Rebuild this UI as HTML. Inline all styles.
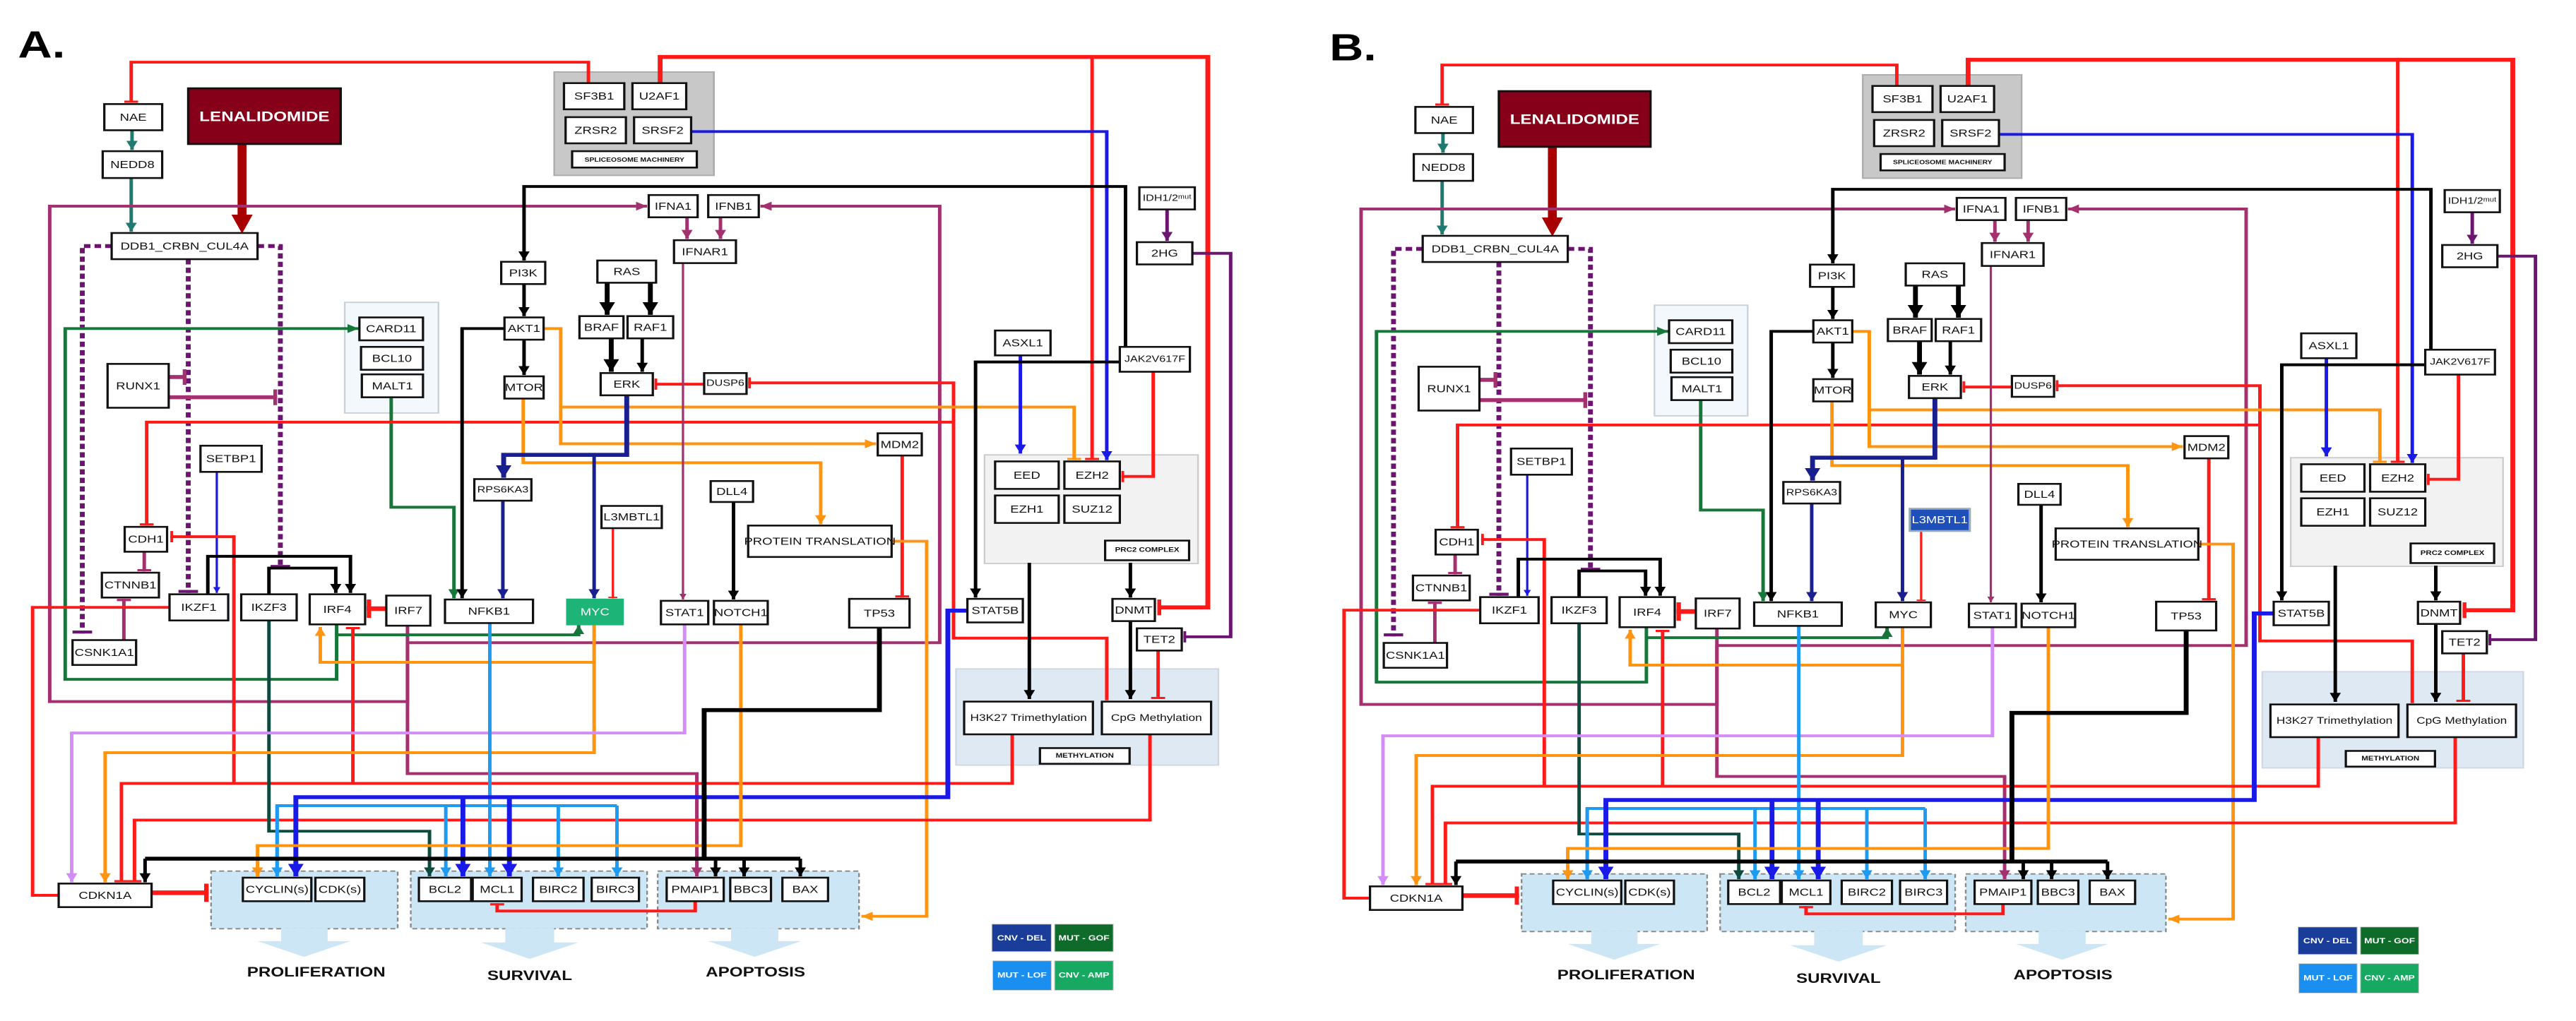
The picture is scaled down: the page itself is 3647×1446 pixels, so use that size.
<!DOCTYPE html>
<html><head><meta charset="utf-8"><style>
html,body{margin:0;padding:0;background:#fff;width:3647px;height:1446px;overflow:hidden;position:relative}
svg{position:absolute;top:0}
text{font-family:"Liberation Sans",sans-serif;font-size:16px;text-anchor:middle;dominant-baseline:central;fill:#111}
.n rect{fill:#fff;stroke:#111;stroke-width:2.8}
path{fill:none;stroke-width:4.3;stroke-linejoin:miter}
.r{stroke:#ff1a1a}.k{stroke:#000}.m{stroke:#a3306f}.tl{stroke:#1f7a72}.g{stroke:#17763a}.nv{stroke:#1a1f8f}.b{stroke:#1a1ae8}.lb{stroke:#1e9bf0}.o{stroke:#ff9410}.li{stroke:#d48cf7}.dt{stroke:#0f4a3f}.p{stroke:#6b1470}
.w2{stroke-width:2.8}.w5{stroke-width:6}.w6{stroke-width:7}
.d{stroke-dasharray:8 5}
</style></head><body>
<svg width="0" height="0" style="position:absolute">
<defs>
<marker id="ak" viewBox="0 0 10 10" refX="10" refY="5" markerWidth="3.2" markerHeight="3.2" orient="auto"><path d="M0,0L10,5L0,10z" style="fill:#000;stroke:none"/></marker>
<marker id="ar" viewBox="0 0 10 10" refX="10" refY="5" markerWidth="3.2" markerHeight="3.2" orient="auto"><path d="M0,0L10,5L0,10z" style="fill:#ff1a1a;stroke:none"/></marker>
<marker id="am" viewBox="0 0 10 10" refX="10" refY="5" markerWidth="3.2" markerHeight="3.2" orient="auto"><path d="M0,0L10,5L0,10z" style="fill:#a3306f;stroke:none"/></marker>
<marker id="atl" viewBox="0 0 10 10" refX="10" refY="5" markerWidth="3.2" markerHeight="3.2" orient="auto"><path d="M0,0L10,5L0,10z" style="fill:#1f7a72;stroke:none"/></marker>
<marker id="ag" viewBox="0 0 10 10" refX="10" refY="5" markerWidth="3.2" markerHeight="3.2" orient="auto"><path d="M0,0L10,5L0,10z" style="fill:#17763a;stroke:none"/></marker>
<marker id="anv" viewBox="0 0 10 10" refX="10" refY="5" markerWidth="3.2" markerHeight="3.2" orient="auto"><path d="M0,0L10,5L0,10z" style="fill:#1a1f8f;stroke:none"/></marker>
<marker id="ab" viewBox="0 0 10 10" refX="10" refY="5" markerWidth="3.2" markerHeight="3.2" orient="auto"><path d="M0,0L10,5L0,10z" style="fill:#1a1ae8;stroke:none"/></marker>
<marker id="alb" viewBox="0 0 10 10" refX="10" refY="5" markerWidth="3.2" markerHeight="3.2" orient="auto"><path d="M0,0L10,5L0,10z" style="fill:#1e9bf0;stroke:none"/></marker>
<marker id="ao" viewBox="0 0 10 10" refX="10" refY="5" markerWidth="3.2" markerHeight="3.2" orient="auto"><path d="M0,0L10,5L0,10z" style="fill:#ff9410;stroke:none"/></marker>
<marker id="ali" viewBox="0 0 10 10" refX="10" refY="5" markerWidth="3.2" markerHeight="3.2" orient="auto"><path d="M0,0L10,5L0,10z" style="fill:#d48cf7;stroke:none"/></marker>
<marker id="adt" viewBox="0 0 10 10" refX="10" refY="5" markerWidth="3.2" markerHeight="3.2" orient="auto"><path d="M0,0L10,5L0,10z" style="fill:#0f4a3f;stroke:none"/></marker>
<marker id="ap" viewBox="0 0 10 10" refX="10" refY="5" markerWidth="3.2" markerHeight="3.2" orient="auto"><path d="M0,0L10,5L0,10z" style="fill:#6b1470;stroke:none"/></marker>
<marker id="tr" viewBox="0 0 2 10" refX="2" refY="5" markerWidth="0.8" markerHeight="4" orient="auto"><rect x="0" y="0" width="2" height="10" style="fill:#ff1a1a;stroke:none"/></marker>
<marker id="tm" viewBox="0 0 2 10" refX="2" refY="5" markerWidth="0.8" markerHeight="4" orient="auto"><rect x="0" y="0" width="2" height="10" style="fill:#a3306f;stroke:none"/></marker>
<marker id="tp" viewBox="0 0 2 10" refX="2" refY="5" markerWidth="0.8" markerHeight="4" orient="auto"><rect x="0" y="0" width="2" height="10" style="fill:#6b1470;stroke:none"/></marker>
<marker id="to" viewBox="0 0 2 10" refX="2" refY="5" markerWidth="0.8" markerHeight="4" orient="auto"><rect x="0" y="0" width="2" height="10" style="fill:#ff9410;stroke:none"/></marker>
</defs></svg>

<!-- PANEL A -->
<svg style="left:0" width="1800" height="1446" viewBox="0 0 1560 1560" preserveAspectRatio="none">
<text x="51" y="68" style="font-size:58px;font-weight:bold;fill:#000">A.</text>
<rect x="680" y="110" width="196" height="158" fill="#c8c8c8" stroke="#aaa" stroke-width="2"/>
<rect x="423" y="462" width="115" height="169" fill="#f3f8fc" stroke="#c8d0d8" stroke-width="2"/>
<rect x="1208" y="695" width="262" height="166" fill="#f2f2f2" stroke="#ccc" stroke-width="2"/>
<rect x="1173" y="1022" width="322" height="147" fill="#dfe9f3" stroke="#cdd8e3" stroke-width="2"/>
<g fill="#cce6f5" stroke="#888" stroke-width="2" stroke-dasharray="6 4">
<rect x="259" y="1331" width="229" height="88"/><rect x="504" y="1331" width="290" height="88"/><rect x="807" y="1331" width="247" height="88"/></g>
<g fill="#cce6f5" stroke="none">
<polygon points="345,1418 402,1418 402,1438 430,1438 373,1462 316,1438 345,1438"/>
<polygon points="620,1418 680,1418 680,1440 710,1440 650,1465 590,1440 620,1440"/>
<polygon points="897,1418 955,1418 955,1438 983,1438 926,1462 869,1438 897,1438"/></g>

<path class="r" d="M722,127 V95 H161 V157" marker-end="url(#tr)"/>
<path class="r w5" d="M810,127 V87 H1482 V928 H1420" marker-end="url(#tr)"/>
<path class="r" d="M1340,87 V703" marker-end="url(#tr)"/>
<path class="b" d="M848,201 H1358 V703" marker-end="url(#ab)"/>
<path style="stroke:#a80000;stroke-width:11" d="M297,220 V330"/>
<polygon points="284,328 310,328 297,357" fill="#a80000"/>
<path class="tl" d="M162,199 V229" marker-end="url(#atl)"/>
<path class="tl" d="M161,272 V354" marker-end="url(#atl)"/>
<path class="m" d="M500,952 V1072 H61 V315 H794" marker-end="url(#am)"/>
<path class="m" d="M500,982 H1153 V315 H933" marker-end="url(#am)"/>
<path class="m" d="M500,982 V1182 H855 V1339" marker-end="url(#am)"/>
<path class="p d w5" d="M137,376 H101 V968" marker-end="url(#tp)"/>
<path class="p d w5" d="M316,376 H344 V868" marker-end="url(#tp)"/>
<path class="p d w5" d="M231,396 V906" marker-end="url(#tp)"/>
<path class="m w5" d="M207,576 H229" marker-end="url(#tm)"/>
<path class="m w5" d="M207,607 H340" marker-end="url(#tm)"/>
<path class="g" d="M413,954 V1038 H80 V502 H440" marker-end="url(#ag)"/>
<path class="g" d="M413,970 H710 V955" marker-end="url(#ag)"/>
<path class="g" d="M480,607 V775 H557 V914" marker-end="url(#ag)"/>
<path class="b w2" d="M266,721 V906" marker-end="url(#ab)"/>
<path class="r" d="M1358,1070 V975 H1170 V585 H918" marker-end="url(#tr)"/>
<path class="r" d="M1170,645 H180 V803" marker-end="url(#tr)"/>
<path class="k" d="M1381,530 V285 H643 V398" marker-end="url(#ak)"/>
<path class="k" d="M643,434 V483" marker-end="url(#ak)"/>
<path class="k" d="M643,519 V573" marker-end="url(#ak)"/>
<path class="k" d="M619,502 H567 V914" marker-end="url(#ak)"/>
<path class="o" d="M667,502 H688 V678 H1075" marker-end="url(#ao)"/>
<path class="o" d="M688,622 H1318 V703" marker-end="url(#to)"/>
<path class="o" d="M642,609 V707 H1007 V801" marker-end="url(#ao)"/>
<path class="k w5" d="M745,432 V481" marker-end="url(#ak)"/>
<path class="k w5" d="M798,432 V481" marker-end="url(#ak)"/>
<path class="k w5" d="M750,517 V568" marker-end="url(#ak)"/>
<path class="k" d="M788,517 V568" marker-end="url(#ak)"/>
<path class="r" d="M864,587 H803" marker-end="url(#tr)"/>
<path class="nv w5" d="M769,604 V695 H618 V730" marker-end="url(#anv)"/>
<path class="nv" d="M729,695 V914" marker-end="url(#anv)"/>
<path class="nv" d="M617,765 V914" marker-end="url(#anv)"/>
<path class="r w2" d="M752,807 V914" marker-end="url(#tr)"/>
<path class="m" d="M843,332 V365" marker-end="url(#am)"/>
<path class="m" d="M884,332 V365" marker-end="url(#am)"/>
<path class="m w2" d="M838,402 V916" marker-end="url(#am)"/>
<path class="p" d="M1432,320 V368" marker-end="url(#ap)"/>
<path class="p" d="M1463,387 H1510 V973 H1452" marker-end="url(#tp)"/>
<path class="b" d="M1252,543 V693" marker-end="url(#ab)"/>
<path class="k" d="M1374,553 H1197 V913" marker-end="url(#ak)"/>
<path class="r" d="M1415,568 V728 H1376" marker-end="url(#tr)"/>
<path class="k" d="M1263,860 V1068" marker-end="url(#ak)"/>
<path class="k" d="M1387,860 V913" marker-end="url(#ak)"/>
<path class="k" d="M1387,949 V1068" marker-end="url(#ak)"/>
<path class="r" d="M1421,994 V1068" marker-end="url(#tr)"/>
<path class="r" d="M1107,696 V913" marker-end="url(#tr)"/>
<path class="k" d="M900,767 V916" marker-end="url(#ak)"/>
<path class="o" d="M1094,827 H1137 V1400 H1057" marker-end="url(#ao)"/>
<path class="m" d="M177,843 V873" marker-end="url(#tm)"/>
<path class="m" d="M152,978 V915" marker-end="url(#tm)"/>
<path class="r" d="M208,928 H40 V1368 H72"/>
<path class="r" d="M287,1197 V820 H209" marker-end="url(#tr)"/>
<path class="r" d="M1242,1122 V1197 H149 V1348" marker-end="url(#tr)"/>
<path class="r" d="M433,1197 V958" marker-end="url(#tr)"/>
<path class="r" d="M1411,1122 V1253 H165 V1348" marker-end="url(#tr)"/>
<path class="k" d="M255,908 V850 H430 V906" marker-end="url(#ak)"/>
<path class="k" d="M330,908 V868 H412 V906" marker-end="url(#ak)"/>
<path class="r w6" d="M474,930 H450" marker-end="url(#tr)"/>
<path class="dt" d="M330,948 V1270 H527 V1339" marker-end="url(#adt)"/>
<path class="o" d="M729,954 V1150 H129 V1348" marker-end="url(#ao)"/>
<path class="o" d="M729,1012 H393 V958" marker-end="url(#ao)"/>
<path class="li" d="M840,954 V1120 H88 V1348" marker-end="url(#ali)"/>
<path class="lb" d="M601,952 V1339" marker-end="url(#alb)"/>
<path class="lb" d="M340,1339 V1231 H757"/>
<path class="lb" d="M340,1231 V1339" marker-end="url(#alb)"/>
<path class="lb" d="M547,1231 V1339" marker-end="url(#alb)"/>
<path class="lb" d="M685,1231 V1339" marker-end="url(#alb)"/>
<path class="lb" d="M757,1231 V1339" marker-end="url(#alb)"/>
<path class="b w5" d="M1187,933 H1163 V1218 H363 V1339" marker-end="url(#ab)"/>
<path class="b w5" d="M568,1218 V1339" marker-end="url(#ab)"/>
<path class="b w5" d="M625,1218 V1339" marker-end="url(#ab)"/>
<path class="o" d="M909,954 V1292 H316 V1339" marker-end="url(#ao)"/>
<path class="k w5" d="M1079,959 V1085 H864 V1312"/>
<path class="k w5" d="M178,1312 H982"/>
<path class="k" d="M178,1312 V1348" marker-end="url(#ak)"/>
<path class="k" d="M878,1312 V1339" marker-end="url(#ak)"/>
<path class="k" d="M913,1312 V1339" marker-end="url(#ak)"/>
<path class="k" d="M982,1312 V1339" marker-end="url(#ak)"/>
<path class="r" d="M853,1377 V1392 H610 V1380" marker-end="url(#tr)"/>
<path class="r w6" d="M186,1364 H256" marker-end="url(#tr)"/>

<rect x="231" y="135" width="187" height="85" fill="#860019" stroke="#111" stroke-width="3"/>
<text x="324.5" y="178" style="font-size:21px;font-weight:bold;fill:#fff">LENALIDOMIDE</text>
<g class="n">
<rect x="128" y="159" width="71" height="40"/><text x="163.5" y="179">NAE</text>
<rect x="126" y="231" width="73" height="41"/><text x="162.5" y="251.5">NEDD8</text>
<rect x="137" y="356" width="179" height="40"/><text x="226.5" y="376">DDB1_CRBN_CUL4A</text>
<rect x="132" y="556" width="75" height="67"/><text x="169.5" y="589.5">RUNX1</text>
<rect x="441" y="485" width="78" height="35"/><text x="480" y="502.5">CARD11</text>
<rect x="443" y="530" width="76" height="35"/><text x="481" y="547.5">BCL10</text>
<rect x="444" y="572" width="75" height="35"/><text x="481.5" y="589.5">MALT1</text>
<rect x="246" y="681" width="75" height="40"/><text x="283.5" y="701">SETBP1</text>
<rect x="615" y="400" width="54" height="34"/><text x="642" y="417">PI3K</text>
<rect x="619" y="485" width="48" height="34"/><text x="643" y="502">AKT1</text>
<rect x="619" y="575" width="48" height="34"/><text x="643" y="592">MTOR</text>
<rect x="733" y="398" width="72" height="34"/><text x="769" y="415">RAS</text>
<rect x="711" y="483" width="54" height="34"/><text x="738" y="500">BRAF</text>
<rect x="770" y="483" width="56" height="34"/><text x="798" y="500">RAF1</text>
<rect x="737" y="570" width="64" height="34"/><text x="769" y="587">ERK</text>
<rect x="864" y="570" width="52" height="32"/><text x="890" y="586" style="font-size:14px">DUSP6</text>
<rect x="582" y="732" width="70" height="33"/><text x="617" y="748.5" style="font-size:14px">RPS6KA3</text>
<rect x="738" y="773" width="74" height="34"/><text x="775" y="790">L3MBTL1</text>
<rect x="796" y="298" width="60" height="34"/><text x="826" y="315">IFNA1</text>
<rect x="869" y="298" width="62" height="34"/><text x="900" y="315">IFNB1</text>
<rect x="827" y="367" width="76" height="35"/><text x="865" y="384.5">IFNAR1</text>
<rect x="692" y="127" width="74" height="40"/><text x="729" y="147">SF3B1</text>
<rect x="776" y="127" width="66" height="40"/><text x="809" y="147">U2AF1</text>
<rect x="694" y="179" width="74" height="40"/><text x="731" y="199">ZRSR2</text>
<rect x="778" y="179" width="70" height="40"/><text x="813" y="199">SRSF2</text>
<rect x="702" y="231" width="153" height="25"/><text x="778.5" y="243.5" style="font-size:9px;font-weight:bold">SPLICEOSOME MACHINERY</text>
<rect x="1398" y="286" width="68" height="34"/><text x="1432" y="303" style="font-size:14px">IDH1/2ᵐᵘᵗ</text>
<rect x="1395" y="370" width="68" height="34"/><text x="1429" y="387">2HG</text>
<rect x="1221" y="505" width="68" height="38"/><text x="1255" y="524">ASXL1</text>
<rect x="1374" y="530" width="86" height="38"/><text x="1417" y="549" style="font-size:14px">JAK2V617F</text>
<rect x="1221" y="705" width="78" height="42"/><text x="1260" y="726">EED</text>
<rect x="1306" y="705" width="68" height="42"/><text x="1340" y="726">EZH2</text>
<rect x="1221" y="757" width="78" height="42"/><text x="1260" y="778">EZH1</text>
<rect x="1306" y="757" width="68" height="42"/><text x="1340" y="778">SUZ12</text>
<rect x="1356" y="826" width="103" height="30"/><text x="1407.5" y="841" style="font-size:10px;font-weight:bold">PRC2 COMPLEX</text>
<rect x="1365" y="915" width="52" height="34"/><text x="1391" y="932">DNMT</text>
<rect x="1395" y="960" width="55" height="34"/><text x="1422.5" y="977">TET2</text>
<rect x="1183" y="1072" width="158" height="50"/><text x="1262" y="1097" style="font-size:15px">H3K27 Trimethylation</text>
<rect x="1352" y="1072" width="134" height="50"/><text x="1419" y="1097" style="font-size:15px">CpG Methylation</text>
<rect x="1276" y="1143" width="110" height="24"/><text x="1331" y="1155" style="font-size:10px;font-weight:bold">METHYLATION</text>
<rect x="1077" y="662" width="54" height="34"/><text x="1104" y="679">MDM2</text>
<rect x="872" y="735" width="52" height="32"/><text x="898" y="751">DLL4</text>
<rect x="918" y="803" width="176" height="48"/><text x="1006" y="827">PROTEIN TRANSLATION</text>
<rect x="811" y="918" width="58" height="36"/><text x="840" y="936">STAT1</text>
<rect x="876" y="918" width="66" height="36"/><text x="909" y="936">NOTCH1</text>
<rect x="1042" y="915" width="74" height="44"/><text x="1079" y="937">TP53</text>
<rect x="1187" y="915" width="68" height="36"/><text x="1221" y="933">STAT5B</text>
<rect x="208" y="908" width="72" height="40"/><text x="244" y="928">IKZF1</text>
<rect x="296" y="908" width="68" height="40"/><text x="330" y="928">IKZF3</text>
<rect x="380" y="908" width="68" height="46"/><text x="414" y="931">IRF4</text>
<rect x="474" y="910" width="54" height="46"/><text x="501" y="933">IRF7</text>
<rect x="546" y="916" width="108" height="36"/><text x="600" y="934">NFKB1</text>
<rect x="696" y="916" width="68" height="38" style="fill:#1db478;stroke:#1db478"/><text x="730" y="935" style="fill:#fff">MYC</text>
<rect x="153" y="805" width="52" height="38"/><text x="179" y="824">CDH1</text>
<rect x="125" y="875" width="70" height="38"/><text x="160" y="894">CTNNB1</text>
<rect x="89" y="978" width="78" height="38"/><text x="128" y="997">CSNK1A1</text>
<rect x="72" y="1350" width="114" height="36"/><text x="129" y="1368">CDKN1A</text>
<rect x="298" y="1341" width="84" height="36"/><text x="340" y="1359">CYCLIN(s)</text>
<rect x="387" y="1341" width="60" height="36"/><text x="417" y="1359">CDK(s)</text>
<rect x="514" y="1341" width="64" height="36"/><text x="546" y="1359">BCL2</text>
<rect x="580" y="1341" width="60" height="36"/><text x="610" y="1359">MCL1</text>
<rect x="654" y="1341" width="62" height="36"/><text x="685" y="1359">BIRC2</text>
<rect x="726" y="1341" width="58" height="36"/><text x="755" y="1359">BIRC3</text>
<rect x="818" y="1341" width="70" height="36"/><text x="853" y="1359">PMAIP1</text>
<rect x="896" y="1341" width="50" height="36"/><text x="921" y="1359">BBC3</text>
<rect x="960" y="1341" width="56" height="36"/><text x="988" y="1359">BAX</text>
</g>
<text x="388" y="1485" style="font-size:21px;font-weight:bold">PROLIFERATION</text>
<text x="650" y="1490" style="font-size:21px;font-weight:bold">SURVIVAL</text>
<text x="927" y="1485" style="font-size:21px;font-weight:bold">APOPTOSIS</text>
<rect x="1217" y="1412" width="73" height="42" fill="#1a3d9a" stroke="#ccc"/><text x="1253.5" y="1433" style="font-size:12px;font-weight:bold;fill:#fff">CNV - DEL</text>
<rect x="1294" y="1412" width="72" height="42" fill="#0f6b2a" stroke="#ccc"/><text x="1330" y="1433" style="font-size:12px;font-weight:bold;fill:#fff">MUT - GOF</text>
<rect x="1218" y="1468" width="72" height="45" fill="#1a8fef" stroke="#ccc"/><text x="1254" y="1490" style="font-size:12px;font-weight:bold;fill:#fff">MUT - LOF</text>
<rect x="1294" y="1468" width="72" height="45" fill="#17a862" stroke="#ccc"/><text x="1330" y="1490" style="font-size:12px;font-weight:bold;fill:#fff">CNV - AMP</text>
</svg>

<!-- PANEL B -->
<svg style="left:1857px;top:4px" width="1790" height="1446" viewBox="0 0 1560 1560" preserveAspectRatio="none">
<text x="51" y="68" style="font-size:58px;font-weight:bold;fill:#000">B.</text>
<rect x="680" y="110" width="196" height="158" fill="#c8c8c8" stroke="#aaa" stroke-width="2"/>
<rect x="423" y="462" width="115" height="169" fill="#f3f8fc" stroke="#c8d0d8" stroke-width="2"/>
<rect x="1208" y="695" width="262" height="166" fill="#f2f2f2" stroke="#ccc" stroke-width="2"/>
<rect x="1173" y="1022" width="322" height="147" fill="#dfe9f3" stroke="#cdd8e3" stroke-width="2"/>
<g fill="#cce6f5" stroke="#888" stroke-width="2" stroke-dasharray="6 4">
<rect x="259" y="1331" width="229" height="88"/><rect x="504" y="1331" width="290" height="88"/><rect x="807" y="1331" width="247" height="88"/></g>
<g fill="#cce6f5" stroke="none">
<polygon points="345,1418 402,1418 402,1438 430,1438 373,1462 316,1438 345,1438"/>
<polygon points="620,1418 680,1418 680,1440 710,1440 650,1465 590,1440 620,1440"/>
<polygon points="897,1418 955,1418 955,1438 983,1438 926,1462 869,1438 897,1438"/></g>

<path class="r" d="M722,127 V95 H161 V157" marker-end="url(#tr)"/>
<path class="r w5" d="M810,127 V87 H1482 V928 H1420" marker-end="url(#tr)"/>
<path class="r" d="M1340,87 V703" marker-end="url(#tr)"/>
<path class="b" d="M848,201 H1358 V703" marker-end="url(#ab)"/>
<path style="stroke:#a80000;stroke-width:11" d="M297,220 V330"/>
<polygon points="284,328 310,328 297,357" fill="#a80000"/>
<path class="tl" d="M162,199 V229" marker-end="url(#atl)"/>
<path class="tl" d="M161,272 V354" marker-end="url(#atl)"/>
<path class="m" d="M500,952 V1072 H61 V315 H794" marker-end="url(#am)"/>
<path class="m" d="M500,982 H1153 V315 H933" marker-end="url(#am)"/>
<path class="m" d="M500,982 V1182 H855 V1339" marker-end="url(#am)"/>
<path class="p d w5" d="M137,376 H101 V968" marker-end="url(#tp)"/>
<path class="p d w5" d="M316,376 H344 V868" marker-end="url(#tp)"/>
<path class="p d w5" d="M231,396 V906" marker-end="url(#tp)"/>
<path class="m w5" d="M207,576 H229" marker-end="url(#tm)"/>
<path class="m w5" d="M207,607 H340" marker-end="url(#tm)"/>
<path class="g" d="M413,954 V1038 H80 V502 H440" marker-end="url(#ag)"/>
<path class="g" d="M413,970 H710 V955" marker-end="url(#ag)"/>
<path class="g" d="M480,607 V775 H557 V914" marker-end="url(#ag)"/>
<path class="b w2" d="M266,721 V906" marker-end="url(#ab)"/>
<path class="r" d="M1358,1070 V975 H1170 V585 H918" marker-end="url(#tr)"/>
<path class="r" d="M1170,645 H180 V803" marker-end="url(#tr)"/>
<path class="k" d="M1381,530 V285 H643 V398" marker-end="url(#ak)"/>
<path class="k" d="M643,434 V483" marker-end="url(#ak)"/>
<path class="k" d="M643,519 V573" marker-end="url(#ak)"/>
<path class="k" d="M619,502 H567 V914" marker-end="url(#ak)"/>
<path class="o" d="M667,502 H688 V678 H1075" marker-end="url(#ao)"/>
<path class="o" d="M688,622 H1318 V703" marker-end="url(#to)"/>
<path class="o" d="M642,609 V707 H1007 V801" marker-end="url(#ao)"/>
<path class="k w5" d="M745,432 V481" marker-end="url(#ak)"/>
<path class="k w5" d="M798,432 V481" marker-end="url(#ak)"/>
<path class="k w5" d="M750,517 V568" marker-end="url(#ak)"/>
<path class="k" d="M788,517 V568" marker-end="url(#ak)"/>
<path class="r" d="M864,587 H803" marker-end="url(#tr)"/>
<path class="nv w5" d="M769,604 V695 H618 V730" marker-end="url(#anv)"/>
<path class="nv" d="M729,695 V914" marker-end="url(#anv)"/>
<path class="nv" d="M617,765 V914" marker-end="url(#anv)"/>
<path class="r w2" d="M752,807 V914" marker-end="url(#tr)"/>
<path class="m" d="M843,332 V365" marker-end="url(#am)"/>
<path class="m" d="M884,332 V365" marker-end="url(#am)"/>
<path class="m w2" d="M838,402 V916" marker-end="url(#am)"/>
<path class="p" d="M1432,320 V368" marker-end="url(#ap)"/>
<path class="p" d="M1463,387 H1510 V973 H1452" marker-end="url(#tp)"/>
<path class="b" d="M1252,543 V693" marker-end="url(#ab)"/>
<path class="k" d="M1374,553 H1197 V913" marker-end="url(#ak)"/>
<path class="r" d="M1415,568 V728 H1376" marker-end="url(#tr)"/>
<path class="k" d="M1263,860 V1068" marker-end="url(#ak)"/>
<path class="k" d="M1387,860 V913" marker-end="url(#ak)"/>
<path class="k" d="M1387,949 V1068" marker-end="url(#ak)"/>
<path class="r" d="M1421,994 V1068" marker-end="url(#tr)"/>
<path class="r" d="M1107,696 V913" marker-end="url(#tr)"/>
<path class="k" d="M900,767 V916" marker-end="url(#ak)"/>
<path class="o" d="M1094,827 H1137 V1400 H1057" marker-end="url(#ao)"/>
<path class="m" d="M177,843 V873" marker-end="url(#tm)"/>
<path class="m" d="M152,978 V915" marker-end="url(#tm)"/>
<path class="r" d="M208,928 H40 V1368 H72"/>
<path class="r" d="M287,1197 V820 H209" marker-end="url(#tr)"/>
<path class="r" d="M1242,1122 V1197 H149 V1348" marker-end="url(#tr)"/>
<path class="r" d="M433,1197 V958" marker-end="url(#tr)"/>
<path class="r" d="M1411,1122 V1253 H165 V1348" marker-end="url(#tr)"/>
<path class="k" d="M255,908 V850 H430 V906" marker-end="url(#ak)"/>
<path class="k" d="M330,908 V868 H412 V906" marker-end="url(#ak)"/>
<path class="r w6" d="M474,930 H450" marker-end="url(#tr)"/>
<path class="dt" d="M330,948 V1270 H527 V1339" marker-end="url(#adt)"/>
<path class="o" d="M729,954 V1150 H129 V1348" marker-end="url(#ao)"/>
<path class="o" d="M729,1012 H393 V958" marker-end="url(#ao)"/>
<path class="li" d="M840,954 V1120 H88 V1348" marker-end="url(#ali)"/>
<path class="lb" d="M601,952 V1339" marker-end="url(#alb)"/>
<path class="lb" d="M340,1339 V1231 H757"/>
<path class="lb" d="M340,1231 V1339" marker-end="url(#alb)"/>
<path class="lb" d="M547,1231 V1339" marker-end="url(#alb)"/>
<path class="lb" d="M685,1231 V1339" marker-end="url(#alb)"/>
<path class="lb" d="M757,1231 V1339" marker-end="url(#alb)"/>
<path class="b w5" d="M1187,933 H1163 V1218 H363 V1339" marker-end="url(#ab)"/>
<path class="b w5" d="M568,1218 V1339" marker-end="url(#ab)"/>
<path class="b w5" d="M625,1218 V1339" marker-end="url(#ab)"/>
<path class="o" d="M909,954 V1292 H316 V1339" marker-end="url(#ao)"/>
<path class="k w5" d="M1079,959 V1085 H864 V1312"/>
<path class="k w5" d="M178,1312 H982"/>
<path class="k" d="M178,1312 V1348" marker-end="url(#ak)"/>
<path class="k" d="M878,1312 V1339" marker-end="url(#ak)"/>
<path class="k" d="M913,1312 V1339" marker-end="url(#ak)"/>
<path class="k" d="M982,1312 V1339" marker-end="url(#ak)"/>
<path class="r" d="M853,1377 V1392 H610 V1380" marker-end="url(#tr)"/>
<path class="r w6" d="M186,1364 H256" marker-end="url(#tr)"/>

<rect x="231" y="135" width="187" height="85" fill="#860019" stroke="#111" stroke-width="3"/>
<text x="324.5" y="178" style="font-size:21px;font-weight:bold;fill:#fff">LENALIDOMIDE</text>
<g class="n">
<rect x="128" y="159" width="71" height="40"/><text x="163.5" y="179">NAE</text>
<rect x="126" y="231" width="73" height="41"/><text x="162.5" y="251.5">NEDD8</text>
<rect x="137" y="356" width="179" height="40"/><text x="226.5" y="376">DDB1_CRBN_CUL4A</text>
<rect x="132" y="556" width="75" height="67"/><text x="169.5" y="589.5">RUNX1</text>
<rect x="441" y="485" width="78" height="35"/><text x="480" y="502.5">CARD11</text>
<rect x="443" y="530" width="76" height="35"/><text x="481" y="547.5">BCL10</text>
<rect x="444" y="572" width="75" height="35"/><text x="481.5" y="589.5">MALT1</text>
<rect x="246" y="681" width="75" height="40"/><text x="283.5" y="701">SETBP1</text>
<rect x="615" y="400" width="54" height="34"/><text x="642" y="417">PI3K</text>
<rect x="619" y="485" width="48" height="34"/><text x="643" y="502">AKT1</text>
<rect x="619" y="575" width="48" height="34"/><text x="643" y="592">MTOR</text>
<rect x="733" y="398" width="72" height="34"/><text x="769" y="415">RAS</text>
<rect x="711" y="483" width="54" height="34"/><text x="738" y="500">BRAF</text>
<rect x="770" y="483" width="56" height="34"/><text x="798" y="500">RAF1</text>
<rect x="737" y="570" width="64" height="34"/><text x="769" y="587">ERK</text>
<rect x="864" y="570" width="52" height="32"/><text x="890" y="586" style="font-size:14px">DUSP6</text>
<rect x="582" y="732" width="70" height="33"/><text x="617" y="748.5" style="font-size:14px">RPS6KA3</text>
<rect x="738" y="773" width="74" height="34" style="fill:#1f4fb8;stroke:#9ab"/><text x="775" y="790" style="fill:#fff">L3MBTL1</text>
<rect x="796" y="298" width="60" height="34"/><text x="826" y="315">IFNA1</text>
<rect x="869" y="298" width="62" height="34"/><text x="900" y="315">IFNB1</text>
<rect x="827" y="367" width="76" height="35"/><text x="865" y="384.5">IFNAR1</text>
<rect x="692" y="127" width="74" height="40"/><text x="729" y="147">SF3B1</text>
<rect x="776" y="127" width="66" height="40"/><text x="809" y="147">U2AF1</text>
<rect x="694" y="179" width="74" height="40"/><text x="731" y="199">ZRSR2</text>
<rect x="778" y="179" width="70" height="40"/><text x="813" y="199">SRSF2</text>
<rect x="702" y="231" width="153" height="25"/><text x="778.5" y="243.5" style="font-size:9px;font-weight:bold">SPLICEOSOME MACHINERY</text>
<rect x="1398" y="286" width="68" height="34"/><text x="1432" y="303" style="font-size:14px">IDH1/2ᵐᵘᵗ</text>
<rect x="1395" y="370" width="68" height="34"/><text x="1429" y="387">2HG</text>
<rect x="1221" y="505" width="68" height="38"/><text x="1255" y="524">ASXL1</text>
<rect x="1374" y="530" width="86" height="38"/><text x="1417" y="549" style="font-size:14px">JAK2V617F</text>
<rect x="1221" y="705" width="78" height="42"/><text x="1260" y="726">EED</text>
<rect x="1306" y="705" width="68" height="42"/><text x="1340" y="726">EZH2</text>
<rect x="1221" y="757" width="78" height="42"/><text x="1260" y="778">EZH1</text>
<rect x="1306" y="757" width="68" height="42"/><text x="1340" y="778">SUZ12</text>
<rect x="1356" y="826" width="103" height="30"/><text x="1407.5" y="841" style="font-size:10px;font-weight:bold">PRC2 COMPLEX</text>
<rect x="1365" y="915" width="52" height="34"/><text x="1391" y="932">DNMT</text>
<rect x="1395" y="960" width="55" height="34"/><text x="1422.5" y="977">TET2</text>
<rect x="1183" y="1072" width="158" height="50"/><text x="1262" y="1097" style="font-size:15px">H3K27 Trimethylation</text>
<rect x="1352" y="1072" width="134" height="50"/><text x="1419" y="1097" style="font-size:15px">CpG Methylation</text>
<rect x="1276" y="1143" width="110" height="24"/><text x="1331" y="1155" style="font-size:10px;font-weight:bold">METHYLATION</text>
<rect x="1077" y="662" width="54" height="34"/><text x="1104" y="679">MDM2</text>
<rect x="872" y="735" width="52" height="32"/><text x="898" y="751">DLL4</text>
<rect x="918" y="803" width="176" height="48"/><text x="1006" y="827">PROTEIN TRANSLATION</text>
<rect x="811" y="918" width="58" height="36"/><text x="840" y="936">STAT1</text>
<rect x="876" y="918" width="66" height="36"/><text x="909" y="936">NOTCH1</text>
<rect x="1042" y="915" width="74" height="44"/><text x="1079" y="937">TP53</text>
<rect x="1187" y="915" width="68" height="36"/><text x="1221" y="933">STAT5B</text>
<rect x="208" y="908" width="72" height="40"/><text x="244" y="928">IKZF1</text>
<rect x="296" y="908" width="68" height="40"/><text x="330" y="928">IKZF3</text>
<rect x="380" y="908" width="68" height="46"/><text x="414" y="931">IRF4</text>
<rect x="474" y="910" width="54" height="46"/><text x="501" y="933">IRF7</text>
<rect x="546" y="916" width="108" height="36"/><text x="600" y="934">NFKB1</text>
<rect x="696" y="916" width="68" height="38"/><text x="730" y="935">MYC</text>
<rect x="153" y="805" width="52" height="38"/><text x="179" y="824">CDH1</text>
<rect x="125" y="875" width="70" height="38"/><text x="160" y="894">CTNNB1</text>
<rect x="89" y="978" width="78" height="38"/><text x="128" y="997">CSNK1A1</text>
<rect x="72" y="1350" width="114" height="36"/><text x="129" y="1368">CDKN1A</text>
<rect x="298" y="1341" width="84" height="36"/><text x="340" y="1359">CYCLIN(s)</text>
<rect x="387" y="1341" width="60" height="36"/><text x="417" y="1359">CDK(s)</text>
<rect x="514" y="1341" width="64" height="36"/><text x="546" y="1359">BCL2</text>
<rect x="580" y="1341" width="60" height="36"/><text x="610" y="1359">MCL1</text>
<rect x="654" y="1341" width="62" height="36"/><text x="685" y="1359">BIRC2</text>
<rect x="726" y="1341" width="58" height="36"/><text x="755" y="1359">BIRC3</text>
<rect x="818" y="1341" width="70" height="36"/><text x="853" y="1359">PMAIP1</text>
<rect x="896" y="1341" width="50" height="36"/><text x="921" y="1359">BBC3</text>
<rect x="960" y="1341" width="56" height="36"/><text x="988" y="1359">BAX</text>
</g>
<text x="388" y="1485" style="font-size:21px;font-weight:bold">PROLIFERATION</text>
<text x="650" y="1490" style="font-size:21px;font-weight:bold">SURVIVAL</text>
<text x="927" y="1485" style="font-size:21px;font-weight:bold">APOPTOSIS</text>
<rect x="1217" y="1412" width="73" height="42" fill="#1a3d9a" stroke="#ccc"/><text x="1253.5" y="1433" style="font-size:12px;font-weight:bold;fill:#fff">CNV - DEL</text>
<rect x="1294" y="1412" width="72" height="42" fill="#0f6b2a" stroke="#ccc"/><text x="1330" y="1433" style="font-size:12px;font-weight:bold;fill:#fff">MUT - GOF</text>
<rect x="1218" y="1468" width="72" height="45" fill="#1a8fef" stroke="#ccc"/><text x="1254" y="1490" style="font-size:12px;font-weight:bold;fill:#fff">MUT - LOF</text>
<rect x="1294" y="1468" width="72" height="45" fill="#17a862" stroke="#ccc"/><text x="1330" y="1490" style="font-size:12px;font-weight:bold;fill:#fff">CNV - AMP</text>
</svg>
</body></html>
